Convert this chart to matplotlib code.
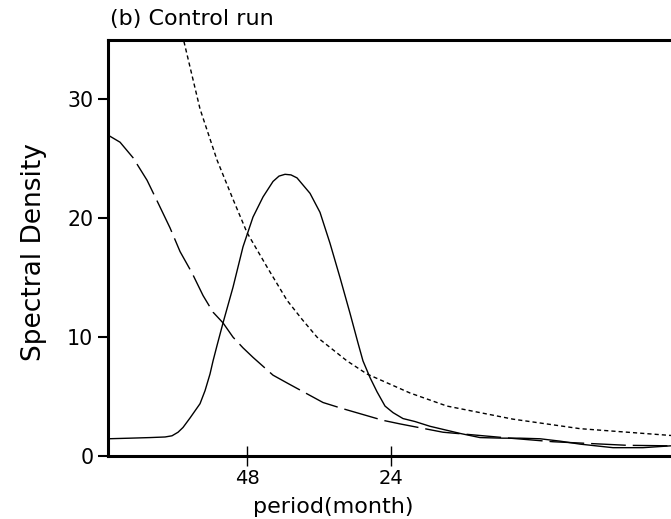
import matplotlib
matplotlib.use("Agg")
import matplotlib.pyplot as plt

# frequency in cycles/month, spectral density
freq_model = [0.00065, 0.00385, 0.00675, 0.00893, 0.00994, 0.01082, 0.01154,
              0.01256, 0.01401, 0.01474, 0.01546, 0.01590, 0.01648, 0.01735,
              0.01880, 0.02025, 0.02170, 0.02316, 0.02461, 0.02548, 0.02635,
              0.02722, 0.02809, 0.02998, 0.03143, 0.03288, 0.03434, 0.03579,
              0.03695, 0.03767, 0.03869, 0.03971, 0.04087, 0.04203, 0.04348,
              0.04522, 0.04740, 0.04958, 0.05176, 0.05466, 0.05800, 0.06047,
              0.06337, 0.06628, 0.06918, 0.07397, 0.07832, 0.08300]
dens_model = [1.45, 1.5, 1.55, 1.6, 1.7, 2.0, 2.4,
              3.2, 4.4, 5.5, 6.9, 8.0, 9.3, 11.2,
              14.2, 17.6, 20.1, 21.8, 23.1, 23.55, 23.7,
              23.65, 23.4, 22.1, 20.5, 17.9, 15.0, 12.0,
              9.5, 8.0, 6.6, 5.4, 4.2, 3.65, 3.15,
              2.9, 2.5, 2.2, 1.9, 1.55, 1.5, 1.5,
              1.45, 1.25, 1.0, 0.7, 0.7, 0.88]

freq_red = [0.00065, 0.00240, 0.00428, 0.00632, 0.00791, 0.00965, 0.01111,
            0.01285, 0.01445, 0.01590, 0.01735, 0.01880, 0.02025, 0.02170,
            0.02461, 0.02679, 0.03187, 0.03463, 0.04058, 0.04305, 0.04929,
            0.05321, 0.05902, 0.06526, 0.07600, 0.08300]
dens_red = [27.0, 26.4, 25.1, 23.2, 21.3, 19.2, 17.2,
            15.4, 13.5, 12.1, 11.2, 10.0, 9.1, 8.3,
            6.8, 6.1, 4.5, 4.0, 3.0, 2.7, 2.0,
            1.8, 1.5, 1.2, 0.9, 0.85]

freq_sig = [0.00965, 0.01154, 0.01401, 0.01648, 0.01880, 0.02083, 0.02374,
            0.02664, 0.02882, 0.03100, 0.03318, 0.03535, 0.03825, 0.04450,
            0.04987, 0.05945, 0.06918, 0.08300]
dens_sig = [40.5, 35.2, 29.2, 24.9, 21.6, 18.8, 15.9,
            13.1, 11.5, 10.0, 9.0, 8.0, 6.9, 5.3,
            4.2, 3.1, 2.3, 1.7]

period_ticks = [48, 24]
y_ticks = [0, 10, 20, 30]

fig = plt.figure(figsize=(6.71, 5.19), dpi=100)
ax = fig.add_axes([108 / 671, 63 / 519, 563 / 671, 416 / 519])

ax.plot(freq_model, dens_model, color='black', lw=1.0)
ax.plot(freq_red, dens_red, color='black', lw=1.0, dashes=(25, 5))
ax.plot(freq_sig, dens_sig, color='black', lw=1.0, dashes=(3, 2.2))

ax.set_xlim(0.00065, 0.08239)
ax.set_ylim(0, 35)

ax.set_xticks([1.0 / p for p in period_ticks])
ax.set_xticklabels([str(p) for p in period_ticks], fontsize=14)
ax.set_yticks(y_ticks)
ax.set_yticklabels([str(v) for v in y_ticks], fontsize=14.8)

ax.tick_params(axis='x', direction='inout', length=15, width=1.0, pad=2)
ax.tick_params(axis='y', direction='out', length=7, width=1.5, pad=3.5)

for side in ['left', 'top', 'bottom']:
    ax.spines[side].set_linewidth(2.2)
ax.spines['right'].set_visible(False)

ax.set_xlabel('period(month)', fontsize=16)
ax.xaxis.set_label_coords(0.4, -0.099)
ax.xaxis.label.set_va('top')
ax.set_ylabel('Spectral Density', fontsize=19)
ax.yaxis.set_label_coords(-0.108, 0.49)

fig.text(110 / 671, 1 - 19 / 519, '(b) Control run', fontsize=16,
         ha='left', va='center')

fig.savefig('out.png', dpi=100)
